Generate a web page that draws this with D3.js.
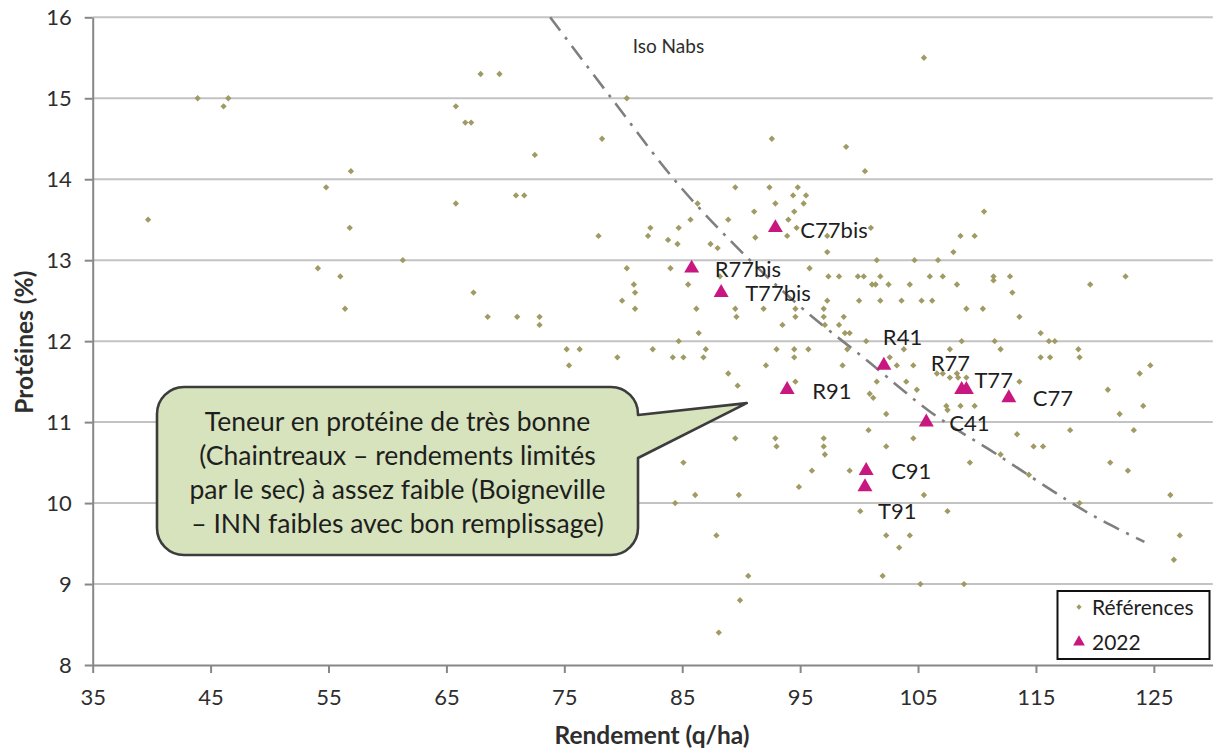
<!DOCTYPE html>
<html lang="fr">
<head>
<meta charset="utf-8">
<script src="https://cdn.jsdelivr.net/npm/d3@7/dist/d3.min.js"></script>
<style>
  html, body { margin: 0; padding: 0; background: #fff; }
  svg { display: block; font-family: Lato, "Open Sans", sans-serif; }
</style>
</head>
<body>
<svg id="chart" width="1213" height="751"></svg>
<script>
// Axis ticks
const xTicks = [35, 45, 55, 65, 75, 85, 95, 105, 115, 125];
const yTicks = [8, 9, 10, 11, 12, 13, 14, 15, 16];

// Reference trials: yield (q/ha)
const refYield = [
  39.7, 43.9, 46.1, 46.5, 54.8, 56.9, 56.8, 54.1, 56.0, 56.4,
  61.3, 67.9, 69.5, 65.8, 66.6, 67.1, 80.3, 78.2, 72.5, 92.6,
  65.8, 70.9, 71.6, 77.9, 82.3, 82.1, 83.8, 84.6, 84.7, 85.7,
  86.3, 87.4, 88.0, 88.9, 89.5, 91.1, 92.4, 92.9, 94.8, 94.4,
  95.5, 95.3, 94.5, 94.0, 94.7, 93.9, 105.5, 98.9, 100.5, 110.6,
  101.0, 97.3, 108.6, 109.8, 97.3, 108.0, 101.5, 104.7, 106.7, 91.2,
  67.3, 68.5, 71.0, 72.9, 72.9, 80.3, 84.0, 88.2, 80.9, 81.0,
  79.9, 81.0, 85.5, 86.2, 89.5, 89.6, 91.9, 95.8, 97.4, 98.3,
  99.9, 100.4, 101.1, 101.4, 101.8, 97.3, 100.0, 101.8, 94.6, 97.0,
  97.0, 97.1, 98.7, 98.3, 98.8, 99.2, 93.5, 94.6, 84.7, 86.4,
  75.2, 76.3, 79.5, 75.4, 82.5, 84.2, 85.1, 86.8, 87.0, 88.9,
  93.0, 94.5, 95.7, 94.5, 92.1, 98.6, 99.0, 104.3, 106.0, 107.1,
  108.3, 111.4, 111.4, 112.8, 113.0, 119.6, 122.6, 102.5, 103.6, 105.3,
  106.2, 109.1, 110.5, 113.6, 100.6, 108.7, 111.5, 115.4, 116.1, 116.6,
  118.6, 118.7, 112.0, 107.7, 115.4, 116.2, 124.7, 123.8, 103.2, 104.6,
  102.6, 107.1, 108.3, 106.6, 104.0, 101.5, 104.9, 113.6, 121.1, 124.1,
  122.1, 100.9, 101.2, 102.3, 107.4, 107.5, 109.8, 100.8, 97.0, 97.0,
  97.1, 102.3, 104.6, 113.4, 117.9, 123.3, 114.8, 115.6, 112.0, 109.4,
  121.3, 122.8, 96.0, 99.2, 114.4, 118.7, 126.4, 105.5, 89.7, 94.6,
  89.5, 92.9, 93.0, 85.1, 94.9, 86.1, 89.8, 84.4, 100.1, 107.5,
  102.3, 104.3, 103.4, 87.9, 90.6, 102.0, 105.2, 108.9, 89.9, 88.1,
  127.2, 126.7, 108.6, 107.7, 108.4, 109.1, 103.8
];

// Reference trials: protein content (%)
const refProtein = [
  13.5, 15.0, 14.9, 15.0, 13.9, 14.1, 13.4, 12.9, 12.8, 12.4,
  13.0, 15.3, 15.3, 14.9, 14.7, 14.7, 15.0, 14.5, 14.3, 14.5,
  13.7, 13.8, 13.8, 13.3, 13.4, 13.3, 13.25, 13.2, 13.4, 13.5,
  13.7, 13.2, 13.15, 13.5, 13.9, 13.6, 13.9, 13.7, 13.9, 13.8,
  13.8, 13.7, 13.6, 13.5, 13.4, 13.3, 15.5, 14.4, 14.1, 13.6,
  13.4, 13.3, 13.3, 13.3, 13.1, 13.1, 13.0, 13.0, 13.0, 13.28,
  12.6, 12.3, 12.3, 12.3, 12.2, 12.9, 12.9, 12.8, 12.7, 12.6,
  12.5, 12.4, 12.7, 12.4, 12.4, 12.3, 12.4, 12.9, 12.8, 12.8,
  12.8, 12.8, 12.7, 12.7, 12.8, 12.5, 12.5, 12.5, 12.4, 12.4,
  12.3, 12.2, 12.3, 12.2, 12.1, 12.1, 12.2, 12.3, 12.0, 12.1,
  11.9, 11.9, 11.8, 11.7, 11.9, 11.8, 11.8, 11.8, 11.9, 11.6,
  11.9, 11.9, 11.9, 11.8, 11.7, 11.7, 11.9, 12.7, 12.8, 12.8,
  12.7, 12.8, 12.75, 12.8, 12.6, 12.7, 12.8, 12.7, 12.5, 12.5,
  12.5, 12.4, 12.4, 12.3, 12.0, 12.0, 12.0, 12.1, 12.0, 12.0,
  11.9, 11.8, 11.9, 11.9, 11.8, 11.8, 11.7, 11.6, 11.7, 11.7,
  11.8, 11.6, 11.6, 11.6, 11.5, 11.5, 11.4, 11.5, 11.4, 11.2,
  11.1, 11.35, 11.3, 11.1, 11.2, 11.15, 11.2, 10.9, 10.8, 10.7,
  10.6, 10.7, 10.8, 10.85, 10.9, 10.9, 10.7, 10.7, 10.6, 10.5,
  10.5, 10.4, 10.4, 10.4, 10.35, 10.0, 10.1, 10.1, 11.45, 11.5,
  10.8, 10.8, 10.7, 10.5, 10.2, 10.1, 10.1, 10.0, 9.9, 9.9,
  9.6, 9.6, 9.45, 9.6, 9.1, 9.1, 9.0, 9.0, 8.8, 8.4,
  9.6, 9.3, 11.2, 11.55, 11.55, 11.55, 11.9
];

// 2022 trials
const trialNames   = ["C77bis", "R77bis", "T77bis", "R41", "R91", "R77", "T77", "C77", "C41", "C91", "T91"];
const trialYield   = [92.9, 85.8, 88.3, 102.1, 93.9, 108.7, 109.1, 112.7, 105.7, 100.6, 100.5];
const trialProtein = [13.4, 12.9, 12.6, 11.7, 11.4, 11.4, 11.4, 11.3, 11.0, 10.4, 10.2];

// Iso Nabs curve (constant nitrogen uptake)
const isoYield   = [73.8, 79.0, 84.7, 90.6, 95.3, 100.6, 106.2, 111.7, 117.6, 120.4, 124.2];
const isoProtein = [16.0, 15.0, 13.93, 13.02, 12.39, 11.77, 11.11, 10.6, 10.04, 9.8, 9.52];

const calloutLines = [
  "Teneur en protéine de très bonne",
  "(Chaintreaux – rendements limités",
  "par le sec) à assez faible (Boigneville",
  "– INN faibles avec bon remplissage)"
];

// ---- layout ----
const svg = d3.select("#chart");
const plotL = 92.7, plotR = 1212.8, plotT = 17.3, plotB = 665;

const x = d3.scaleLinear().domain([35, 130]).range([plotL, plotR]);
const y = d3.scaleLinear().domain([8, 16]).range([plotB, plotT]);

const refColor = "#a09b64";
const trialColor = "#c8177f";
const axisColor = "#878787";
const textColor = "#2e2e2e";

// horizontal gridlines
svg.append("g")
  .selectAll("line")
  .data(yTicks.filter(v => v > 8))
  .join("line")
  .attr("x1", plotL).attr("x2", plotR)
  .attr("y1", d => y(d)).attr("y2", d => y(d))
  .attr("stroke", "#c3c3c3")
  .attr("stroke-width", 2);

// axes
const xAxis = svg.append("g")
  .attr("transform", `translate(0,${plotB})`)
  .call(d3.axisBottom(x).tickValues(xTicks).tickSize(8).tickSizeOuter(0).tickPadding(16));
const yAxis = svg.append("g")
  .attr("transform", `translate(${plotL},0)`)
  .call(d3.axisLeft(y).tickValues(yTicks).tickSize(8).tickSizeOuter(0).tickPadding(13));

[xAxis, yAxis].forEach(g => {
  g.select(".domain").attr("stroke", axisColor).attr("stroke-width", 2);
  g.selectAll(".tick line").attr("stroke", axisColor).attr("stroke-width", 2);
  g.selectAll(".tick text")
    .attr("fill", textColor)
    .style("font-family", "Lato, sans-serif")
    .style("font-size", "22px");
});

// axis titles
svg.append("text")
  .attr("x", 652)
  .attr("y", 744)
  .attr("text-anchor", "middle")
  .attr("fill", textColor)
  .style("font-weight", "bold")
  .style("font-size", "24.5px")
  .text("Rendement (q/ha)");

svg.append("text")
  .attr("transform", `translate(33,${(plotT + plotB) / 2 + 1}) rotate(-90)`)
  .attr("text-anchor", "middle")
  .attr("fill", textColor)
  .style("font-weight", "bold")
  .style("font-size", "24.5px")
  .text("Protéines (%)");

// Iso Nabs curve
const isoPts = d3.zip(isoYield, isoProtein);
svg.append("path")
  .datum(isoPts)
  .attr("d", d3.line().x(d => x(d[0])).y(d => y(d[1])).curve(d3.curveCatmullRom))
  .attr("fill", "none")
  .attr("stroke", "#7f7f7f")
  .attr("stroke-width", 2.6)
  .attr("stroke-dasharray", "17,8,3,8");

svg.append("text")
  .attr("x", x(80.8)).attr("y", 53)
  .attr("fill", textColor)
  .style("font-size", "19px")
  .text("Iso Nabs");

// reference points (small diamonds)
const refPts = d3.zip(refYield, refProtein);
svg.append("g")
  .selectAll("path")
  .data(refPts)
  .join("path")
  .attr("d", d3.symbol(d3.symbolSquare, 20))
  .attr("transform", d => `translate(${x(d[0])},${y(d[1])}) rotate(45)`)
  .attr("fill", refColor);

// 2022 trials (triangles)
const trials = trialNames.map((n, i) => ({ name: n, x: trialYield[i], y: trialProtein[i] }));
svg.append("g")
  .selectAll("path")
  .data(trials)
  .join("path")
  .attr("d", d3.symbol(d3.symbolTriangle, 97))
  .attr("transform", d => `translate(${x(d.x)},${y(d.y)})`)
  .attr("fill", trialColor);

// trial labels placed around their triangle
const labelOffset = {
  C77bis: [25, 2], R77bis: [23, 1], T77bis: [24, 1], R41: [-1, -28],
  R91: [25, 1], R77: [-31, -27], T77: [8, -10], C77: [24, 0],
  C41: [23, 1], C91: [25, 0], T91: [13, 24]
};
svg.append("g")
  .selectAll("text")
  .data(trials)
  .join("text")
  .attr("x", d => x(d.x) + labelOffset[d.name][0])
  .attr("y", d => y(d.y) + labelOffset[d.name][1])
  .attr("dy", "0.36em")
  .attr("fill", "#1e1e1e")
  .style("font-size", "22px")
  .text(d => d.name);

// callout bubble
const bx0 = 157, bx1 = 638, by0 = 387, by1 = 555, r = 27;
const tipX = x(90.47), tipY = y(11.235);
const p = d3.path();
p.moveTo(bx0 + r, by0);
p.lineTo(bx1 - r, by0);
p.arcTo(bx1, by0, bx1, by0 + r, r);
p.lineTo(bx1, 415);
p.lineTo(tipX, tipY);
p.lineTo(bx1, 458);
p.lineTo(bx1, by1 - r);
p.arcTo(bx1, by1, bx1 - r, by1, r);
p.lineTo(bx0 + r, by1);
p.arcTo(bx0, by1, bx0, by1 - r, r);
p.lineTo(bx0, by0 + r);
p.arcTo(bx0, by0, bx0 + r, by0, r);
p.closePath();
svg.append("path")
  .attr("d", p.toString())
  .attr("fill", "#d6e3bc")
  .attr("stroke", "#3c3c3c")
  .attr("stroke-width", 2.6)
  .attr("stroke-linejoin", "round");

svg.append("g")
  .selectAll("text")
  .data(calloutLines)
  .join("text")
  .attr("x", (bx0 + bx1) / 2)
  .attr("y", (d, i) => 421 + i * 34.3)
  .attr("dy", "0.36em")
  .attr("text-anchor", "middle")
  .attr("fill", "#1e1e1e")
  .style("font-size", "26.5px")
  .text(d => d);

// legend
const lg = svg.append("g");
lg.append("rect")
  .attr("x", 1057.5).attr("y", 591).attr("width", 152).attr("height", 68)
  .attr("fill", "#fff").attr("stroke", "#111").attr("stroke-width", 2);
lg.append("path")
  .attr("d", d3.symbol(d3.symbolSquare, 14))
  .attr("transform", "translate(1079,607) rotate(45)")
  .attr("fill", refColor);
lg.append("path")
  .attr("d", d3.symbol(d3.symbolTriangle, 60))
  .attr("transform", "translate(1079,642)")
  .attr("fill", trialColor);
lg.selectAll("text")
  .data(["Références", "2022"])
  .join("text")
  .attr("x", 1092)
  .attr("y", (d, i) => 607 + i * 35)
  .attr("dy", "0.36em")
  .attr("fill", "#1e1e1e")
  .style("font-size", "21px")
  .text(d => d);
</script>
</body>
</html>
